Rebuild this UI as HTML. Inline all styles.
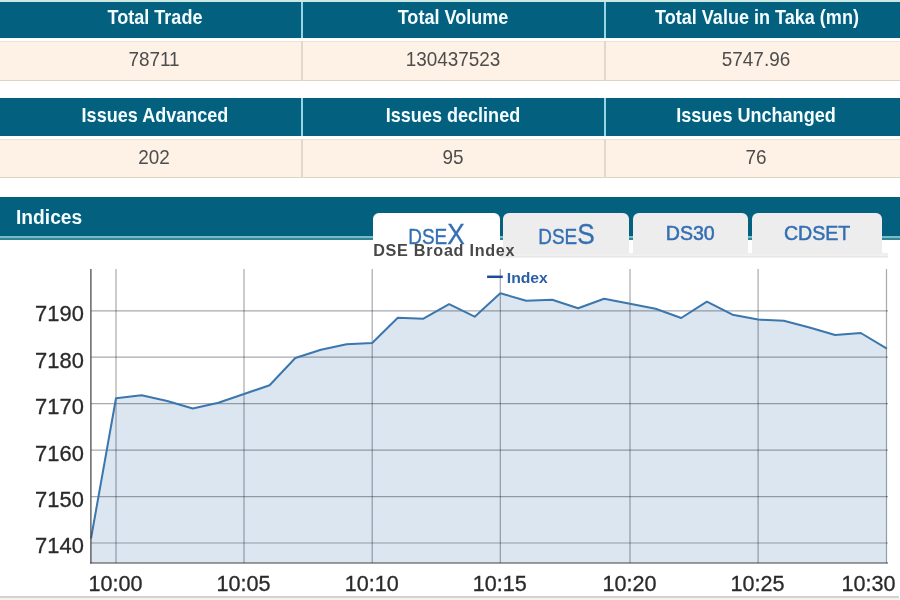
<!DOCTYPE html>
<html lang="en">
<head>
<meta charset="utf-8">
<title>DSE Indices</title>
<style>
html,body{margin:0;padding:0;background:#fff;}
body{width:900px;height:600px;position:relative;overflow:hidden;font-family:"Liberation Sans",sans-serif;}
.abs{position:absolute;}
.hd{position:absolute;background:#04607f;}
.cr{position:absolute;background:#fef1e6;border-bottom:1.5px solid #dcd3c3;border-top:1.9px solid #eae4d3;box-sizing:border-box;}
.vs{position:absolute;width:2px;}
.ht{position:absolute;color:#f4fdff;font-weight:bold;font-size:20.2px;line-height:20px;height:20px;text-align:center;white-space:nowrap;transform:scaleX(0.894);transform-origin:50% 50%;}
.vt{position:absolute;color:#4d4d4d;font-size:20.2px;line-height:20px;height:20px;text-align:center;white-space:nowrap;transform:scaleX(0.937);transform-origin:50% 50%;}
.tab{position:absolute;top:212.6px;height:41.9px;background:#ededed;border-radius:6px 6px 0 0;color:#346fb3;font-size:19px;text-align:center;white-space:nowrap;}
.tab span.s{font-size:21.8px;}
.tab span.b{font-size:30.2px;}
.tab i{font-style:normal;display:inline-block;transform:scaleX(0.87);transform-origin:50% 50%;-webkit-text-stroke:0.35px #346fb3;}
.tab i.w{transform:scaleX(1.0);font-size:19.6px;-webkit-text-stroke:0.5px #346fb3;}
.chart{position:absolute;left:0;top:0;}
.ax{font-family:"Liberation Sans",sans-serif;font-size:21.6px;fill:#2a2a2a;stroke:#2a2a2a;stroke-width:0.3px;}
.ay{font-family:"Liberation Sans",sans-serif;font-size:21.9px;fill:#2a2a2a;stroke:#2a2a2a;stroke-width:0.3px;}
.lg{font-family:"Liberation Sans",sans-serif;font-size:14.5px;font-weight:bold;fill:#2b5ea8;}
</style>
</head>
<body>
<!-- top edge -->
<div class="abs" style="left:0;top:0;width:900px;height:2px;background:#c9e9e2;"></div>
<!-- table 1 -->
<div class="hd" style="left:0;top:1.5px;width:900px;height:36.3px;"></div>
<div class="cr" style="left:0;top:40.9px;width:900px;height:40.1px;"></div>
<div class="vs" style="left:300.7px;width:2.3px;top:1.5px;height:36.3px;background:#96d6e4;"></div>
<div class="vs" style="left:603.5px;width:2.4px;top:1.5px;height:36.3px;background:#96d6e4;"></div>
<div class="vs" style="left:300.9px;top:41px;height:39.5px;background:#e2dac9;width:1.8px;"></div>
<div class="vs" style="left:603.8px;top:41px;height:39.5px;background:#e2dac9;width:1.8px;"></div>
<div class="ht" style="left:54.7px;width:200px;top:7.4px;">Total Trade</div>
<div class="ht" style="left:353px;width:200px;top:7.4px;">Total Volume</div>
<div class="ht" style="left:606.5px;width:300px;top:7.4px;">Total Value in Taka (mn)</div>
<div class="vt" style="left:54px;width:200px;top:49px;">78711</div>
<div class="vt" style="left:353px;width:200px;top:49px;">130437523</div>
<div class="vt" style="left:656px;width:200px;top:49px;">5747.96</div>
<!-- table 2 -->
<div class="hd" style="left:0;top:98.3px;width:900px;height:37.3px;"></div>
<div class="cr" style="left:0;top:138.7px;width:900px;height:39.8px;"></div>
<div class="vs" style="left:300.7px;width:2.3px;top:98px;height:37.6px;background:#96d6e4;"></div>
<div class="vs" style="left:603.5px;width:2.4px;top:98px;height:37.6px;background:#96d6e4;"></div>
<div class="vs" style="left:300.9px;top:138.7px;height:39.3px;background:#e2dac9;width:1.8px;"></div>
<div class="vs" style="left:603.8px;top:138.7px;height:39.3px;background:#e2dac9;width:1.8px;"></div>
<div class="ht" style="left:54.7px;width:200px;top:105.4px;">Issues Advanced</div>
<div class="ht" style="left:353px;width:200px;top:105.4px;">Issues declined</div>
<div class="ht" style="left:656px;width:200px;top:105.4px;">Issues Unchanged</div>
<div class="vt" style="left:54px;width:200px;top:147px;">202</div>
<div class="vt" style="left:353px;width:200px;top:147px;">95</div>
<div class="vt" style="left:656px;width:200px;top:147px;">76</div>
<!-- Indices bar -->
<div class="hd" style="left:0;top:196.7px;width:900px;height:39.7px;"></div>
<div class="abs" style="left:0;top:236.4px;width:900px;height:1.4px;background:#79bac3;"></div>
<div class="abs" style="left:0;top:237.7px;width:900px;height:2.3px;background:#2f8797;"></div>
<div class="ht" style="left:16px;top:206.6px;width:auto;text-align:left;transform:scaleX(0.985);transform-origin:0 50%;font-size:19.5px;">Indices</div>
<!-- tabs -->
<div class="abs" style="left:500px;top:253px;width:388px;height:4.6px;background:linear-gradient(#eeeeee 0,#f1f1f1 55%,#e0e0e0 78%,#ffffff 100%);"></div>
<div class="tab" style="left:373px;width:126.5px;background:#fff;height:45px;line-height:42px;"><i><span class="s">DSE</span><span class="b">X</span></i></div>
<div class="tab" style="left:503.3px;width:125.4px;line-height:42px;"><i><span class="s">DSE</span><span class="b">S</span></i></div>
<div class="tab" style="left:633px;width:114.5px;line-height:40px;"><i class="w">DS30</i></div>
<div class="tab" style="left:751.7px;width:130.8px;line-height:40px;"><i class="w">CDSET</i></div>
<svg class="chart" width="900" height="600" viewBox="0 0 900 600">
<polygon points="91,563 91.0,538.5 116.0,398.3 141.6,395.3 167.2,401.0 192.8,408.5 218.4,402.8 244.0,394.0 269.6,385.3 295.3,358.0 320.9,349.7 346.6,344.2 372.2,343.0 397.8,317.8 423.4,318.7 449.1,304.2 474.7,316.7 500.3,293.2 526.2,300.8 552.2,299.7 578.1,308.3 604.1,298.7 630.0,303.8 655.6,308.7 681.2,318.0 706.9,301.7 732.5,314.7 758.1,319.6 783.8,320.8 809.5,327.5 835.1,335.0 860.8,333.0 886.9,348.7 886.9,563" fill="#dce6f1"/>
<line x1="91" x2="888" y1="310.8" y2="310.8" stroke="#141e28" stroke-opacity="0.38" stroke-width="1.2"/>
<line x1="91" x2="888" y1="357.2" y2="357.2" stroke="#141e28" stroke-opacity="0.38" stroke-width="1.2"/>
<line x1="91" x2="888" y1="403.7" y2="403.7" stroke="#141e28" stroke-opacity="0.38" stroke-width="1.2"/>
<line x1="91" x2="888" y1="450.1" y2="450.1" stroke="#141e28" stroke-opacity="0.38" stroke-width="1.2"/>
<line x1="91" x2="888" y1="496.6" y2="496.6" stroke="#141e28" stroke-opacity="0.38" stroke-width="1.2"/>
<line x1="91" x2="888" y1="543.0" y2="543.0" stroke="#141e28" stroke-opacity="0.38" stroke-width="1.2"/>
<line x1="116.0" x2="116.0" y1="269" y2="563" stroke="#141e28" stroke-opacity="0.38" stroke-width="1.2"/>
<line x1="244.0" x2="244.0" y1="269" y2="563" stroke="#141e28" stroke-opacity="0.38" stroke-width="1.2"/>
<line x1="372.2" x2="372.2" y1="269" y2="563" stroke="#141e28" stroke-opacity="0.38" stroke-width="1.2"/>
<line x1="500.3" x2="500.3" y1="269" y2="563" stroke="#141e28" stroke-opacity="0.38" stroke-width="1.2"/>
<line x1="630.0" x2="630.0" y1="269" y2="563" stroke="#141e28" stroke-opacity="0.38" stroke-width="1.2"/>
<line x1="758.1" x2="758.1" y1="269" y2="563" stroke="#141e28" stroke-opacity="0.38" stroke-width="1.2"/>
<line x1="886.5" x2="886.5" y1="269" y2="563" stroke="#141e28" stroke-opacity="0.38" stroke-width="1.2"/>
<polyline points="91.0,538.5 116.0,398.3 141.6,395.3 167.2,401.0 192.8,408.5 218.4,402.8 244.0,394.0 269.6,385.3 295.3,358.0 320.9,349.7 346.6,344.2 372.2,343.0 397.8,317.8 423.4,318.7 449.1,304.2 474.7,316.7 500.3,293.2 526.2,300.8 552.2,299.7 578.1,308.3 604.1,298.7 630.0,303.8 655.6,308.7 681.2,318.0 706.9,301.7 732.5,314.7 758.1,319.6 783.8,320.8 809.5,327.5 835.1,335.0 860.8,333.0 886.9,348.7" fill="none" stroke="#3b76ad" stroke-width="2" stroke-linejoin="round"/>
<line x1="90.9" x2="90.9" y1="269" y2="563.6" stroke="#404040" stroke-width="1.2"/>
<line x1="90.3" x2="888" y1="563" y2="563" stroke="#404040" stroke-width="1.2"/>
<text transform="translate(83.8,321.2) scale(1,1.04)" text-anchor="end" class="ay">7190</text>
<text transform="translate(83.8,367.6) scale(1,1.04)" text-anchor="end" class="ay">7180</text>
<text transform="translate(83.8,414.1) scale(1,1.04)" text-anchor="end" class="ay">7170</text>
<text transform="translate(83.8,460.5) scale(1,1.04)" text-anchor="end" class="ay">7160</text>
<text transform="translate(83.8,507.0) scale(1,1.04)" text-anchor="end" class="ay">7150</text>
<text transform="translate(83.8,553.4) scale(1,1.04)" text-anchor="end" class="ay">7140</text>
<text transform="translate(115.5,590.6) scale(1,1.04)" text-anchor="middle" class="ax">10:00</text>
<text transform="translate(243.5,590.6) scale(1,1.04)" text-anchor="middle" class="ax">10:05</text>
<text transform="translate(371.7,590.6) scale(1,1.04)" text-anchor="middle" class="ax">10:10</text>
<text transform="translate(499.8,590.6) scale(1,1.04)" text-anchor="middle" class="ax">10:15</text>
<text transform="translate(629.5,590.6) scale(1,1.04)" text-anchor="middle" class="ax">10:20</text>
<text transform="translate(757.6,590.6) scale(1,1.04)" text-anchor="middle" class="ax">10:25</text>
<text transform="translate(895.6,590.6) scale(1,1.04)" text-anchor="end" class="ax">10:30</text>
<line x1="487.1" x2="502.8" y1="276.8" y2="276.8" stroke="#1d4b98" stroke-width="2.5"/>
<text transform="translate(506.8,283) scale(1.085,1)" class="lg">Index</text>
</svg>
<div class="abs" style="left:373.2px;top:240.5px;font-size:16.2px;font-weight:bold;color:#484848;letter-spacing:0.72px;line-height:18px;white-space:nowrap;">DSE Broad Index</div>
<!-- bottom edge -->
<div class="abs" style="left:0;top:596px;width:899px;height:2.2px;background:#d3d3cd;"></div>
<div class="abs" style="left:0;top:598.2px;width:900px;height:1.8px;background:#f4f4ef;"></div>
</body>
</html>
